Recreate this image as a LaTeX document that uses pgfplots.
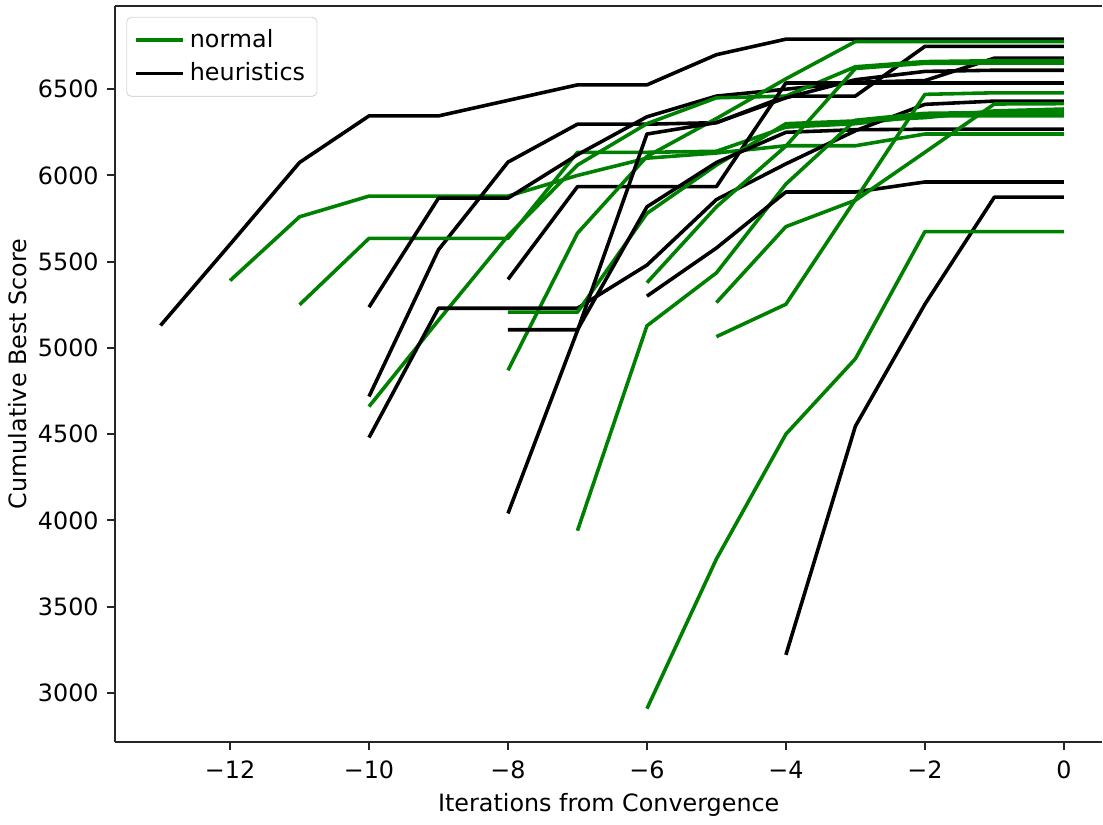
\documentclass[border={0pt 0pt 0pt 2pt}]{standalone}
\usepackage{fontspec}
\setmainfont{DejaVu Sans}
\usepackage{pgfplots}
\pgfplotsset{compat=1.18}
\definecolor{mplgreen}{HTML}{008000}

\begin{document}
\begin{tikzpicture}
\begin{axis}[
  scale only axis,
  width=414pt, height=309pt,
  xmin=-13.65, xmax=0.55,
  ymin=2714, ymax=6984,
  axis x line*=box, axis y line*=left,
  axis line style={line width=0.8pt, black!85},
  tick align=outside, xtick pos=lower, ytick pos=left,
  major tick length=3.5pt,
  tick style={line width=0.8pt, black!85},
  xtick={-12,-10,-8,-6,-4,-2,0},
  xticklabels={−12,−10,−8,−6,−4,−2,0},
  ytick={3000,3500,4000,4500,5000,5500,6000,6500},
  yticklabels={3000,3500,4000,4500,5000,5500,6000,6500},
  ticklabel style={font=\fontsize{10}{12}\selectfont},
  xticklabel style={yshift=-1pt},
  xlabel={Iterations from Convergence},
  ylabel={Cumulative Best Score},
  label style={font=\fontsize{10}{12}\selectfont},
  xlabel style={yshift=1pt},
  ylabel style={yshift=-2pt},
  legend style={at={(0.011,0.985)}, anchor=north west, draw=black!15,
    rounded corners=2pt, font=\fontsize{10}{12}\selectfont,
    inner sep=3pt, row sep=1pt},
  legend cell align=left,
  legend image code/.code={\draw[#1] (0pt,0pt) -- (20pt,0pt);},
  every axis plot/.append style={line width=1.5pt, line join=round},
]
\addlegendimage{mplgreen, line width=1.5pt}
\addlegendimage{black, line width=1.5pt}
\legend{normal, heuristics}

% heuristics
\addplot[black] coordinates {(-13,5130)(-12,5600)(-11,6075)(-10,6345)(-9,6345)(-8,6435)(-7,6525)(-6,6525)(-5,6700)(-4,6790)(-3,6790)(-2,6790)(-1,6790)(0,6790)};
% normal
\addplot[mplgreen] coordinates {(-12,5390)(-11,5760)(-10,5880)(-9,5880)(-8,5880)(-7,6000)(-6,6100)(-5,6130)(-4,6172)(-3,6172)(-2,6240)(-1,6240)(0,6240)};
\addplot[black] coordinates {(-10,4718)(-9,5569)(-8,6077)(-7,6297)(-6,6297)(-5,6306)(-4,6460)(-3,6460)(-2,6748)(-1,6748)(0,6748)};
\addplot[mplgreen] coordinates {(-11,5250)(-10,5635)(-9,5635)(-8,5635)(-7,6134)(-6,6134)(-5,6140)(-4,6280)(-3,6300)(-2,6345)(-1,6345)(0,6345)};
\addplot[black] coordinates {(-10,5236)(-9,5868)(-8,5868)(-7,6120)(-6,6340)(-5,6460)(-4,6500)(-3,6540)(-2,6550)(-1,6680)(0,6680)};
\addplot[mplgreen] coordinates {(-10,4660)(-9,5160)(-8,5650)(-7,6060)(-6,6300)(-5,6450)(-4,6460)(-3,6630)(-2,6660)(-1,6665)(0,6665)};
\addplot[black] coordinates {(-8,5397)(-7,5935)(-6,5935)(-5,5935)(-4,6536)(-3,6536)(-2,6536)(-1,6536)(0,6536)};
\addplot[mplgreen] coordinates {(-8,4870)(-7,5665)(-6,6110)(-5,6330)(-4,6560)(-3,6776)(-2,6776)(-1,6776)(0,6776)};
\addplot[black] coordinates {(-10,4480)(-9,5230)(-8,5230)(-7,5230)(-6,5480)(-5,5860)(-4,6067)(-3,6259)(-2,6412)(-1,6431)(0,6431)};
\addplot[mplgreen] coordinates {(-8,5207)(-7,5207)(-6,5780)(-5,6060)(-4,6300)(-3,6316)(-2,6335)(-1,6374)(0,6385)};
\addplot[black] coordinates {(-8,5105)(-7,5105)(-6,5818)(-5,6075)(-4,6250)(-3,6265)(-2,6268)(-1,6268)(0,6268)};
\addplot[mplgreen] coordinates {(-7,3940)(-6,5128)(-5,5435)(-4,5950)(-3,6320)(-2,6360)(-1,6365)(0,6365)};
\addplot[black] coordinates {(-8,4040)(-7,5100)(-6,6240)(-5,6306)(-4,6450)(-3,6555)(-2,6603)(-1,6610)(0,6610)};
\addplot[mplgreen] coordinates {(-6,5378)(-5,5818)(-4,6170)(-3,6620)(-2,6650)(-1,6651)(0,6651)};
\addplot[black] coordinates {(-6,5300)(-5,5579)(-4,5904)(-3,5904)(-2,5962)(-1,5962)(0,5962)};
\addplot[mplgreen] coordinates {(-5,5263)(-4,5703)(-3,5856)(-2,6134)(-1,6414)(0,6416)};
\addplot[mplgreen] coordinates {(-5,5065)(-4,5253)(-3,5860)(-2,6470)(-1,6479)(0,6479)};
\addplot[black] coordinates {(-4,3220)(-3,4546)(-2,5253)(-1,5874)(0,5874)};
\addplot[mplgreen] coordinates {(-6,2908)(-5,3776)(-4,4500)(-3,4937)(-2,5674)(-1,5674)(0,5674)};
\end{axis}
\end{tikzpicture}
\end{document}
